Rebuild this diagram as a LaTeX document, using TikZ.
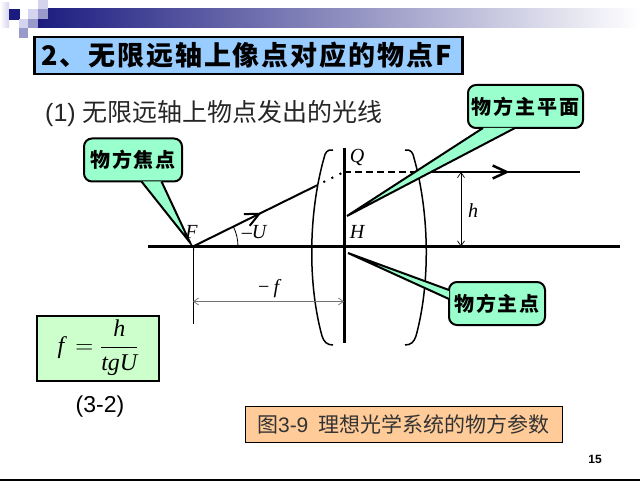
\documentclass[tikz,border=0pt]{standalone}
\usepackage{fontspec}
\usepackage{amsmath}
\setmainfont{Liberation Serif}
\newfontfamily\arial{Liberation Sans}
\newfontfamily\cjk{Noto Sans CJK SC}
\newfontfamily\cjkwide[LetterSpace=9]{Noto Sans CJK SC}
\newfontfamily\cjktitle[LetterSpace=7]{Noto Sans CJK SC}
\usetikzlibrary{calc, arrows.meta, decorations.markings, positioning}
\definecolor{titleblue}{HTML}{99CCFF}
\definecolor{calloutgreen}{HTML}{99FFCC}
\definecolor{formulagreen}{HTML}{CCFFCC}
\definecolor{captionorange}{HTML}{FFCC99}
\definecolor{navy}{HTML}{1C1C80}
\definecolor{lavender}{HTML}{9999CC}
\definecolor{palelav}{HTML}{D4D4EE}

\begin{document}
\begin{tikzpicture}[x=1pt, y=-1pt, >={Straight Barb[length=5pt, width=7pt]},
    callout/.style={draw, line width=2pt, fill=calloutgreen, rounded corners=8pt, inner sep=0pt, minimum height=43pt, font=\fontsize{20}{22}\selectfont\cjkwide\bfseries},
    callouttail/.style={fill=calloutgreen, draw, line width=2pt, line join=miter},
    optlabel/.style={font=\fontsize{20}{22}\selectfont\itshape, inner sep=0pt},
    rayline/.style={line width=2pt},
    chevron/.style={postaction={decorate}, decoration={markings, mark=at position #1 with {\arrow{Straight Barb[length=14pt, width=13pt]}}}}]
\useasboundingbox (0,0) rectangle (640,481);

\shade[left color=navy, right color=white] (38,9) rectangle (640,28);
\shade[left color=white, right color=palelav] (0,3) rectangle (9,28);
\fill[palelav] (38,0) rectangle (48,9);
\fill[navy] (9,9) rectangle (20,20);
\fill[palelav] (28,9) rectangle (38,19);
\fill[lavender] (38,9) rectangle (48,19);
\fill[palelav] (19,19) rectangle (28,28);
\fill[lavender] (28,19) rectangle (38,28);
\fill[lavender] (19,28) rectangle (28,38);

\node[draw, line width=2.5pt, fill=titleblue, anchor=west, inner xsep=7pt, inner ysep=0pt, text width=414pt, align=left, minimum height=37pt, font=\fontsize{27}{30}\selectfont\cjktitle\bfseries] (title) at (33,55.5) {2、无限远轴上像点对应的物点F};
\node[anchor=west, inner sep=0pt, text=black!85, font=\fontsize{25}{28}\selectfont] (subtitle) at (45,114) {{\arial (1)} {\cjk 无限远轴上物点发出的光线}};

\coordinate (F) at (193,246.5);
\coordinate (H) at (344,246.5);
\coordinate (Q) at (344,172);
\coordinate (L) at ($(F)!0.81!(Q)$);
\coordinate (R1) at (420,172);
\coordinate (R2) at (580,172);

\draw[line width=3pt] (148,246.5) -- (620,246.5);
\draw[line width=3pt] (344,148) -- (344,343);
\draw[line width=0.8pt] (F) -- ++(0,77);

\draw[line width=1.5pt] (333,150) .. controls (327,149) and (325,153) .. (324,158) .. controls (308,215) and (308,285) .. (322,336) .. controls (324,342) and (327,345) .. (333,345);
\draw[line width=1.5pt] (405,150) .. controls (411,149) and (413,153) .. (414,158) .. controls (430,215) and (430,285) .. (416,336) .. controls (414,342) and (411,345) .. (405,345);

\draw[rayline, chevron=0.56] (F) -- (L);
\draw[line width=2pt, dash pattern=on 2pt off 7pt] (L) -- (Q);
\draw[line width=2.5pt, dash pattern=on 7pt off 4pt] (Q) -- (R1);
\draw[line width=2.5pt, chevron=0.56] (R1) -- (R2);

\draw[line width=0.8pt] ($(F)+(45,0)$) arc[start angle=0, end angle=-26, radius=45];
\draw[<->, line width=0.7pt] ($(Q)+(117,0)$) -- ($(H)+(117,0)$);
\draw[<->, line width=0.7pt, black!55] ($(F)+(0,55)$) -- ($(H)+(0,55)$);

\node[optlabel] (F-label) at (191.5,231.5) {F};
\node[optlabel] (U-label) at (254,232) {–U};
\node[optlabel] (H-label) at (357,232) {H};
\node[optlabel] (Q-label) at (357,158) {Q};
\node[optlabel] (f-label) at (268,289) {−\,f};
\node[optlabel] (h-label) at (473,211) {h};

\node[callout, minimum width=98pt] (focal-box) at (133,160) {物方焦点};
\node[callout, minimum width=115pt] (plane-box) at (525.5,106.5) {物方主平面};
\node[callout, minimum width=96pt] (point-box) at (497,303.5) {物方主点};

\filldraw[callouttail] ($(focal-box.south)+(8.5,-1)$) -- ($(F)+(-3,-4)$) -- ($(focal-box.south)+(28.5,-1)$);
\filldraw[callouttail] ($(plane-box.south)+(-42.5,-1)$) -- ($(H)+(3,-30.5)$) -- ($(plane-box.south)+(-10.5,-1)$);
\filldraw[callouttail] ($(point-box.west)+(1,-13.5)$) -- ($(H)+(4,6.5)$) -- ($(point-box.west)+(1,-4.5)$);

\node[draw, line width=2pt, fill=formulagreen, minimum width=122pt, minimum height=65pt, inner sep=0pt, font=\fontsize{24}{27}\selectfont] (formula) at (98,348) {$\textit{f}\, = \dfrac{\textit{h}}{\textit{tgU}}$};
\node[font=\fontsize{23}{25}\selectfont\arial, inner sep=0pt] (eqnum) at (100,407) {(3-2)};

\node[draw, line width=0.8pt, fill=captionorange, minimum width=317pt, minimum height=36pt, inner sep=0pt, text=black!80, font=\fontsize{21}{24}\selectfont] (caption) at (403.5,424) {{\cjk 图}{\arial 3-9}\ \ {\cjk 理想光学系统的物方参数}};

\node[font=\fontsize{12}{14}\selectfont\arial\bfseries, inner sep=0pt] (pagenum) at (595,459) {15};
\draw[line width=1.5pt] (0,480.2) -- (640,480.2);

\end{tikzpicture}
\end{document}
